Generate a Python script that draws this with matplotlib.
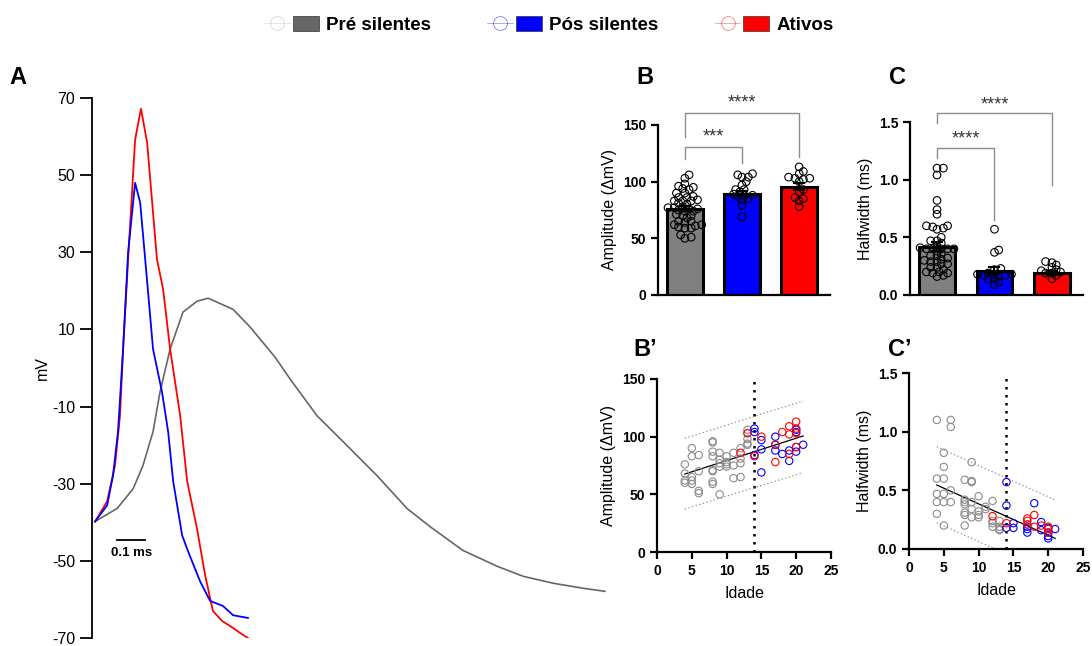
import numpy as np
import matplotlib
matplotlib.use('Agg')
import matplotlib.pyplot as plt
from matplotlib.lines import Line2D
from matplotlib.patches import Patch
from matplotlib.legend_handler import HandlerTuple

plt.rcParams['font.family'] = ['Liberation Sans', 'DejaVu Sans']
plt.rcParams['axes.unicode_minus'] = False

GRAY = '#808080'
BLUE = '#0000ff'
RED = '#ff0000'
groups = ['Pré silentes', 'Pós silentes', 'Ativos']

# --- panel A: mean action potential traces (time in ms, voltage in mV)
pre_t = [0, .079, .136, .171, .207, .232, .268, .314, .364, .404, .493, .554, .643, .696,
         .793, .9, 1.007, 1.114, 1.196, 1.314, 1.436, 1.529, 1.636, 1.743, 1.821]
pre_v = [-39.8, -36.4, -31.3, -25.3, -16.5, -6.2, 4.9, 14.5, 17.3, 18.1, 15.2, 10.6, 2.8, -2.8,
         -12.4, -20.1, -27.9, -36.4, -41.1, -47.3, -51.4, -54.0, -55.8, -57.1, -57.9]
pos_t = [0, .043, .064, .082, .1, .118, .143, .161, .179, .207, .239, .261, .279, .311,
         .332, .375, .411, .457, .493, .546]
pos_v = [-39.8, -35.6, -27.9, -16.5, 4.9, 30.0, 48.0, 42.9, 28.2, 4.9, -6.2, -16.5, -29.4, -43.4,
         -47.5, -55.3, -60.4, -61.7, -64.1, -64.8]
ati_t = [0, .043, .071, .089, .1, .118, .143, .164, .186, .221, .243, .268, .304, .329,
         .364, .393, .421, .454, .493, .518, .546]
ati_v = [-39.8, -34.6, -25.3, -12.4, 4.9, 28.2, 59.2, 67.2, 58.4, 28.2, 20.4, 4.9, -12.4, -29.4,
         -41.6, -53.7, -63.0, -65.6, -67.4, -68.7, -70.0]

# --- amplitude (mV) by age (days)
pre_age_amp = [4]*4 + [5]*5 + [6]*4 + [8]*8 + [9]*5 + [10]*4 + [11]*3 + [12]*4 + [13]*5
pre_amp = [76, 68, 62, 60, 90, 83, 65, 62, 59, 84, 70, 53, 51, 96, 95, 87, 83, 71, 70, 61, 59,
           86, 80, 77, 74, 50, 83, 78, 76, 74, 86, 75, 64, 90, 81, 77, 65, 106, 103, 98, 94, 93]
pos_age_amp = [14, 14, 14, 15, 15, 15, 17, 17, 17, 18, 19, 19, 20, 20, 20, 20, 21]
pos_amp = [107, 104, 84, 97, 89, 69, 100, 93, 88, 85, 88, 79, 106, 104, 91, 87, 93]
ati_age_amp = [12, 13, 14, 15, 17, 17, 18, 19, 19, 19, 20, 20, 20, 20]
ati_amp = [86, 103, 83, 100, 93, 78, 104, 109, 102, 85, 113, 107, 103, 91]

# --- halfwidth (ms) by age (days)
pre_age_hw = [4]*5 + [5]*6 + [6]*4 + [8]*7 + [9]*6 + [10]*4 + [11]*2 + [12]*4 + [13]*4
pre_hw = [1.10, .60, .47, .40, .30, .82, .70, .60, .47, .40, .20, 1.10, 1.04, .50, .40,
          .59, .42, .40, .38, .31, .29, .20, .74, .58, .57, .40, .34, .27, .45, .32, .29, .27,
          .36, .34, .41, .24, .22, .19, .24, .19, .17, .16]
pos_age_hw = [14, 14, 14, 15, 15, 17, 17, 17, 18, 19, 19, 20, 20, 20, 20, 21]
pos_hw = [.57, .37, .18, .22, .18, .19, .17, .14, .39, .23, .16, .18, .14, .11, .09, .17]
ati_age_hw = [12, 14, 17, 17, 17, 18, 18, 19, 20, 20, 20]
ati_hw = [.28, .22, .26, .24, .21, .29, .19, .20, .19, .17, .14]

# bar heights (means)
amp_means = [76, 89.5, 95.5]
hw_means = [0.42, 0.21, 0.19]

# linear fits and prediction bands
fit_x = [4, 21]
amp_fit, amp_hi, amp_lo = [67.6, 100.6], [98.6, 131], [37.3, 68.8]
hw_fit, hw_hi, hw_lo = [0.545, 0.091], [0.872, 0.418], [0.224, -0.23]


def swarm(vals, xpx, ypx, d, tight=0.65):
    """horizontal offsets (data units) so markers of diameter d px barely overlap"""
    vals = np.asarray(vals, float)
    out = np.zeros(len(vals))
    placed = []
    cands = [0]
    for k in range(1, 40):
        cands += [k * d * 0.3, -k * d * 0.3]
    for i in np.argsort(vals):
        y = vals[i] * ypx
        for c in cands:
            if all((c - px) ** 2 + (y - py) ** 2 >= (tight * d) ** 2 for px, py in placed):
                placed.append((c, y))
                out[i] = c / xpx
                break
    return out


fig = plt.figure(figsize=(10.92, 6.46), dpi=100)
W, H = 1092, 646


def add_ax(l, r, t, b):
    return fig.add_axes([l / W, 1 - b / H, (r - l) / W, (b - t) / H])


# ---------------- A
axA = add_ax(92, 620, 98, 638)
axA.plot(pre_t, pre_v, color='#666666', lw=1.2)
axA.plot(ati_t, ati_v, color=RED, lw=1.3)
axA.plot(pos_t, pos_v, color=BLUE, lw=1.3)
axA.set_xlim(-0.011, 1.875)
axA.set_ylim(-70, 70)
axA.set_yticks(range(-70, 71, 20))
axA.set_xticks([])
for s in ['top', 'right', 'bottom']:
    axA.spines[s].set_visible(False)
axA.spines['left'].set_linewidth(1.3)
axA.tick_params(axis='y', length=9, width=1.3, labelsize=11.5, pad=3)
axA.set_ylabel('mV', fontsize=11.5, labelpad=2)
axA.plot([0.079, 0.179], [-44.7, -44.7], color='black', lw=1.3)
axA.text(0.129, -46.5, '0.1 ms', ha='center', va='top', fontsize=9.5, fontweight='bold')


def style_small(ax):
    for s in ['top', 'right']:
        ax.spines[s].set_visible(False)
    for s in ['left', 'bottom']:
        ax.spines[s].set_linewidth(1.6)
    ax.tick_params(length=5, width=1.6, labelsize=10)
    for lab in ax.get_xticklabels() + ax.get_yticklabels():
        lab.set_fontweight('bold')


def bracket(ax, x0, x1, ytop, y0, y1, stars, ystar):
    ax.plot([x0, x0, x1, x1], [y0, ytop, ytop, y1], color='#8c8c8c', lw=1.0, clip_on=False)
    ax.text((x0 + x1) / 2, ystar, stars, ha='center', va='center', fontsize=13,
            color='#333333', clip_on=False)


colors = [GRAY, BLUE, RED]


def bar_panel(ax, means, datas, ymax, ypx, yticks, ylabel):
    xs = np.arange(3)
    ax.bar(xs, means, width=0.62, color=colors, edgecolor='black', linewidth=2.2, zorder=1)
    sems = [np.std(d, ddof=1) / np.sqrt(len(d)) for d in datas]
    ax.errorbar(xs, means, yerr=sems, fmt='none', ecolor='black', elinewidth=1.5,
                capsize=4, capthick=1.5, zorder=2)
    for x, d in zip(xs, datas):
        off = swarm(d, 57, ypx, 7)
        ax.scatter(x + off, d, s=30, facecolors='none', edgecolors='black',
                   linewidths=0.8, zorder=3)
    ax.set_xlim(-0.47, 2.54)
    ax.set_ylim(0, ymax)
    ax.set_yticks(yticks)
    ax.set_xticks([])
    style_small(ax)
    ax.set_ylabel(ylabel, fontsize=11.5, labelpad=4)


# ---------------- B
axB = add_ax(658, 830, 125, 295)
bar_panel(axB, amp_means, [pre_amp, pos_amp, ati_amp], 150, 170 / 150, [0, 50, 100, 150],
          'Amplitude (ΔmV)')
bracket(axB, 0, 2, 160.3, 139.7, 122, '****', 169)
bracket(axB, 0, 1, 130.3, 119.7, 116.2, '***', 139)

# ---------------- C
axC = add_ax(910, 1083, 122, 295)
bar_panel(axC, hw_means, [pre_hw, pos_hw, ati_hw], 1.5, 173 / 1.5, [0, 0.5, 1.0, 1.5],
          'Halfwidth (ms)')
axC.set_yticklabels(['0.0', '0.5', '1.0', '1.5'], fontweight='bold')
bracket(axC, 0, 2, 1.575, 1.489, 0.95, '****', 1.65)
bracket(axC, 0, 1, 1.272, 1.185, 0.65, '****', 1.355)


def age_panel(ax, sets, fit, hi, lo, ymax, yticks, ylabel):
    ax.axvline(14, color='black', ls=(0, (1, 2.2)), lw=1.8, zorder=1)
    ax.plot(fit_x, fit, color='black', lw=0.9, zorder=2)
    ax.plot(fit_x, hi, color='#8c8c8c', ls=(0, (1, 2)), lw=0.9, zorder=2)
    ax.plot(fit_x, lo, color='#8c8c8c', ls=(0, (1, 2)), lw=0.9, zorder=2)
    for (ages, vals), c in zip(sets, ['#8c8c8c', BLUE, RED]):
        ax.scatter(ages, vals, s=28, facecolors='none', edgecolors=c, linewidths=0.8, zorder=3)
    ax.set_xlim(0, 25)
    ax.set_ylim(0, ymax)
    ax.set_xticks(range(0, 26, 5))
    ax.set_yticks(yticks)
    style_small(ax)
    ax.set_xlabel('Idade', fontsize=11.5, labelpad=6)
    ax.set_ylabel(ylabel, fontsize=11.5, labelpad=4)


# ---------------- B'
axB2 = add_ax(657, 831, 379, 552)
age_panel(axB2, [(pre_age_amp, pre_amp), (pos_age_amp, pos_amp), (ati_age_amp, ati_amp)],
          amp_fit, amp_hi, amp_lo, 150, [0, 50, 100, 150], 'Amplitude (ΔmV)')

# ---------------- C'
axC2 = add_ax(909, 1083, 373, 549)
age_panel(axC2, [(pre_age_hw, pre_hw), (pos_age_hw, pos_hw), (ati_age_hw, ati_hw)],
          hw_fit, hw_hi, hw_lo, 1.5, [0, 0.5, 1.0, 1.5], 'Halfwidth (ms)')
axC2.set_yticklabels(['0.0', '0.5', '1.0', '1.5'], fontweight='bold')

# panel letters
for lab, x, y in [('A', 18, 78), ('B', 645, 78), ('C', 897, 78), ('B’', 645, 350), ('C’', 900, 350)]:
    fig.text(x / W, 1 - y / H, lab, fontsize=17, fontweight='bold', ha='center', va='center')

# legend
leg_handles = []
for c, lc in zip(['#666666', BLUE, RED], ['#b0b0b0', BLUE, RED]):
    ln = Line2D([], [], color=lc, lw=0.4, marker='o', markersize=10, markerfacecolor='none',
                markeredgewidth=0.5, alpha=0.6)
    pt = Patch(facecolor=c, edgecolor='#333333', lw=0.5)
    leg_handles.append((ln, pt))
fig.legend(leg_handles, groups, loc='center', bbox_to_anchor=(549 / W, 1 - 25 / H), ncol=3,
           frameon=False, handler_map={tuple: HandlerTuple(ndivide=None, pad=0.15)},
           handlelength=2.9, handleheight=0.9, columnspacing=3.0, handletextpad=0.4,
           prop={'size': 13.5, 'weight': 'bold'})

fig.savefig('out.png', dpi=100)
